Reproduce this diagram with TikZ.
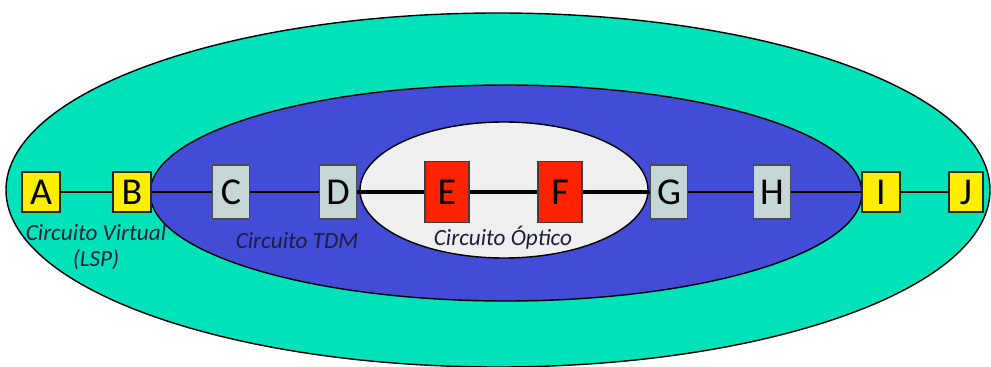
\documentclass[tikz,border=0pt]{standalone}
\usepackage{fontspec}
\setmainfont{Carlito}
\usetikzlibrary{positioning}
\definecolor{outerteal}{RGB}{0,227,186}
\definecolor{tdmblue}{RGB}{67,76,214}
\definecolor{optwhite}{RGB}{239,239,239}
\definecolor{lspyellow}{RGB}{255,238,0}
\definecolor{tdmgray}{RGB}{196,214,214}
\definecolor{optred}{RGB}{255,34,0}
\definecolor{labelink}{RGB}{30,30,60}

\begin{document}
\begin{tikzpicture}[x=0.025cm, y=-0.025cm,
  every node/.style={font=\fontsize{27}{29}\selectfont, inner sep=0pt},
  lspbox/.style={draw=black!85, line width=1.3pt, fill=lspyellow, minimum width=0.95cm, minimum height=1cm},
  tdmbox/.style={draw=black!70, line width=1.1pt, fill=tdmgray, minimum width=0.93cm, minimum height=1.35cm},
  optbox/.style={draw=black!75, line width=1.1pt, fill=optred, minimum width=1.1cm, minimum height=1.52cm},
  circlabel/.style={font=\fontsize{16.5}{19}\selectfont\itshape, text=labelink, align=center}]
\useasboundingbox (0,0) rectangle (991,367);
% nested circuits
\draw[fill=outerteal, line width=1pt] (498,190) ellipse [x radius=492, y radius=177];
\draw[fill=tdmblue, line width=1pt] (506,193) ellipse [x radius=356, y radius=108];
\draw[fill=optwhite, line width=1pt] (504,190) ellipse [x radius=144, y radius=68];
% nodes
\node[lspbox] (a) at (41,192) {A};
\node[lspbox] (b) at (132,192) {B};
\node[tdmbox] (c) at (231,192) {C};
\node[tdmbox] (d) at (338,192) {D};
\node[optbox] (e) at (447,192) {E};
\node[optbox] (f) at (560,192) {F};
\node[tdmbox] (g) at (669,192) {G};
\node[tdmbox] (h) at (772,192) {H};
\node[lspbox] (i) at (881,192) {I};
\node[lspbox, minimum width=0.83cm] (j) at (966,192) {J};
% links
\draw[line width=1.4pt] (a) -- (b);
\draw[line width=1.4pt] (i) -- (j);
\draw[line width=2pt] (b) -- (c) (c) -- (d) (g) -- (h) (h) -- (i);
\draw[line width=3.2pt] (d) -- (e) (e) -- (f) (f) -- (g);
% labels
\node[circlabel] (lsplabel) at (96,247) {Circuito Virtual\\(LSP)};
\node[circlabel] (tdmlabel) at (297,241) {Circuito TDM};
\node[circlabel] (optlabel) at (503,238) {Circuito Óptico};
\end{tikzpicture}
\end{document}
